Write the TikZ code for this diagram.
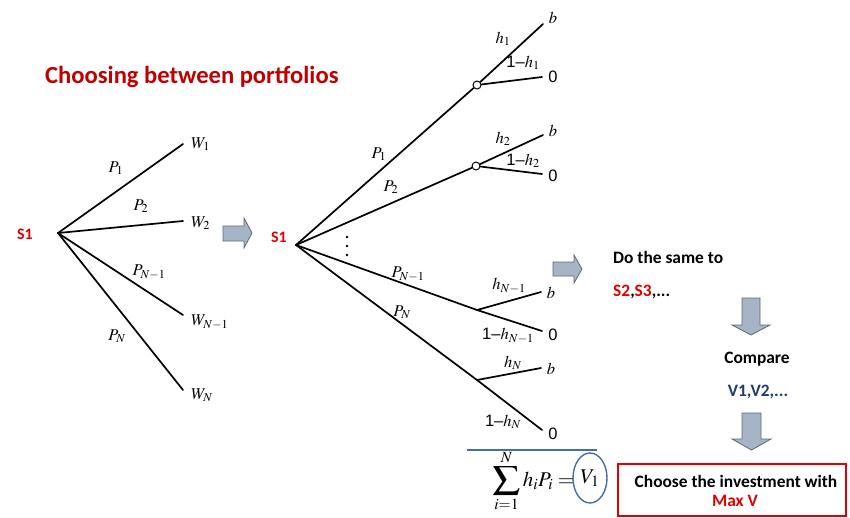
\documentclass[tikz,border=0pt]{standalone}
\usepackage{mathptmx}
\usepackage[no-math]{fontspec}
\setmainfont{Carlito}
\newfontfamily\lsans{Liberation Sans}
\usetikzlibrary{shapes.geometric,calc}
\definecolor{tred}{HTML}{C00000}
\definecolor{sred}{HTML}{E00000}
\definecolor{vblue}{HTML}{1F3C70}
\definecolor{lblue}{HTML}{41719C}
\definecolor{afill}{HTML}{A6B5C6}
\definecolor{aline}{HTML}{5F6873}
\tikzset{
 br/.style={line width=1.7pt, line cap=round},
 lab/.style={inner sep=0pt, font=\fontsize{16.5}{19}\selectfont},
 boldtxt/.style={inner sep=0pt, font=\fontsize{17.4}{20}\selectfont\bfseries},
 sone/.style={inner sep=0pt, font=\fontsize{16}{19}\selectfont\bfseries, text=sred},
 blk/.style={fill=afill, draw=aline, line width=0.8pt, line join=miter},
 jn/.style={circle, draw, fill=white, line width=1pt, inner sep=0pt, minimum size=8pt},
}
\newcommand{\bigsum}{\mathop{\vcenter{\hbox{\scalebox{1.3}[1.1]{$\displaystyle\sum$}}}}\limits}
\begin{document}
\begin{tikzpicture}[x=1pt,y=-1pt]
\useasboundingbox (0,0) rectangle (850,517);

% title
\node[anchor=base west, inner sep=0pt, text=tred, font=\fontsize{24.6}{29}\selectfont\bfseries] (title) at (45,83) {Choosing between portfolios};

% ---------- left tree ----------
\node[sone] (s1a) at (25,234) {S1};
\coordinate (L0) at (58,233);
\coordinate (Lw1) at (183,144);
\coordinate (Lw2) at (183,221);
\coordinate (Lw3) at (183,315);
\coordinate (Lw4) at (183,390);
\foreach \i in {1,...,4} \draw[br] (L0) -- (Lw\i);
\node[lab, anchor=west] (W1) at (191,144) {$W_1$};
\node[lab, anchor=west] (W2) at (191,223) {$W_2$};
\node[lab, anchor=west] (W3) at (191,322) {$W_{N-1}$};
\node[lab, anchor=west] (W4) at (191,395) {$W_N$};
\node[lab] (P1a) at (116,168) {$P_1$};
\node[lab] (P2a) at (141,206) {$P_2$};
\node[lab] (P3a) at (149,272) {$P_{N-1}$};
\node[lab] (P4a) at (117,336) {$P_N$};

% block arrow 1
\draw[blk] (223,226) -- (244,226) -- (244,218) -- (252,233) -- (244,248) -- (244,241) -- (223,241) -- cycle;

% ---------- right tree ----------
\node[sone] (s1b) at (279,237) {S1};
\coordinate (R0) at (296,245);
% branch 1
\node[jn] (c1) at (477,85) {};
\coordinate (b1) at (543,24);
\coordinate (z1) at (542,77);
\draw[br] (R0) -- (c1);
\draw[br] (c1) -- (b1);
\draw[br] (c1) -- (z1);
% branch 2
\node[jn] (c2) at (476,166) {};
\coordinate (b2) at (543,135);
\coordinate (z2) at (542,174);
\draw[br] (R0) -- (c2);
\draw[br] (c2) -- (b2);
\draw[br] (c2) -- (z2);
% branch N-1
\coordinate (j3) at (477,310);
\coordinate (b3) at (541,292);
\coordinate (z3) at (542,331);
\draw[br] (R0) -- (j3) -- (z3);
\draw[br] (j3) -- (b3);
% branch N
\coordinate (j4) at (477,380);
\coordinate (b4) at (541,368);
\coordinate (z4) at (542,430);
\draw[br] (R0) -- (j4) -- (z4);
\draw[br] (j4) -- (b4);
% dots
\foreach \y in {237,246,255} \fill (347,\y) circle (1.3pt);

% labels right tree
\node[lab] (P1b) at (379,154) {$P_1$};
\node[lab] (P2b) at (391,187) {$P_2$};
\node[lab] (P3b) at (408,274) {$P_{N-1}$};
\node[lab] (P4b) at (402,312) {$P_N$};
\node[lab] (h1) at (503,39) {$h_1$};
\node[lab] (h1c) at (523,63) {{\lsans 1–}$h_1$};
\node[lab] (bb1) at (553,18) {$b$};
\node[lab] (zz1) at (553,77) {\lsans 0};
\node[lab] (h2) at (503,139) {$h_2$};
\node[lab] (h2c) at (523,161) {{\lsans 1–}$h_2$};
\node[lab] (bb2) at (553,131) {$b$};
\node[lab] (zz2) at (553,176) {\lsans 0};
\node[lab] (h3) at (509,286) {$h_{N-1}$};
\node[lab] (h3c) at (508,336) {{\lsans 1–}$h_{N-1}$};
\node[lab] (bb3) at (551,293) {$b$};
\node[lab] (zz3) at (553,335) {\lsans 0};
\node[lab] (h4) at (513,363) {$h_N$};
\node[lab] (h4c) at (503,422) {{\lsans 1–}$h_N$};
\node[lab] (bb4) at (551,369) {$b$};
\node[lab] (zz4) at (553,434) {\lsans 0};

% blue rule and formula
\coordinate (bl1) at (467,450);
\coordinate (bl2) at (597,450);
\draw[lblue, line width=1.6pt] (bl1) -- (bl2);
\node[ellipse, draw=lblue, line width=1.4pt, minimum width=34pt, minimum height=50pt, inner sep=0pt, font=\fontsize{21}{25}\selectfont] (v1) at (590,478) {$V_1$};
\node[anchor=base east, inner sep=0pt, font=\fontsize{21}{25}\selectfont] (sum) at ($(v1.base west)+(2,3)$) {$\bigsum_{i=1}^{N} h_iP_i =$};

% block arrow 2 (right)
\draw[blk] (553,262) -- (574,262) -- (574,255) -- (582,269) -- (574,283) -- (574,276) -- (553,276) -- cycle;
\node[boldtxt, anchor=base west] (do) at (613,263) {Do the same to};
\node[boldtxt, anchor=base west] (s23) at (613,296) {\textcolor{sred}{S2},\textcolor{sred}{S3},...};

% down arrow 1
\draw[blk] (742,298) -- (760,298) -- (760,325) -- (770,325) -- (751,335) -- (732,325) -- (742,325) -- cycle;
\node[boldtxt, anchor=base] (cmp) at (757,363) {Compare};
\node[boldtxt, anchor=base, text=vblue] (vv) at (758,396) {V1,V2,...};

% down arrow 2
\draw[blk] (742,413) -- (761,413) -- (761,439) -- (771,439) -- (751.5,450) -- (732,439) -- (742,439) -- cycle;

% decision box
\node[draw=sred, line width=1.6pt, minimum width=228pt, minimum height=52pt, inner sep=0pt] (box) at (732,490) {};
\node[boldtxt, anchor=base] (ch1) at (736,487) {Choose the investment with};
\node[boldtxt, anchor=base, text=sred] (ch2) at (735,506) {Max V};
\end{tikzpicture}
\end{document}
